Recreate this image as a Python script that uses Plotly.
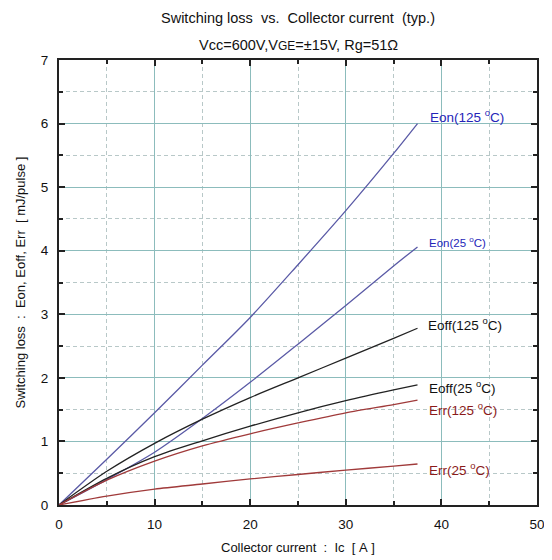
import plotly.graph_objects as go

ic = [0, 5, 10, 15, 20, 25, 30, 35, 37.5]
eon_125 = [0, 0.72, 1.45, 2.2, 2.95, 3.78, 4.63, 5.53, 6.0]
eon_25 = [0, 0.4, 0.83, 1.36, 1.93, 2.53, 3.14, 3.76, 4.06]
eoff_125 = [0, 0.53, 0.97, 1.35, 1.69, 2.0, 2.31, 2.62, 2.78]
eoff_25 = [0, 0.42, 0.76, 1.01, 1.24, 1.45, 1.64, 1.81, 1.89]
err_125 = [0, 0.39, 0.69, 0.93, 1.12, 1.29, 1.45, 1.58, 1.65]
err_25 = [0, 0.14, 0.25, 0.33, 0.41, 0.48, 0.55, 0.61, 0.645]

series = [
    ("Eon(125 °C)", eon_125, "#5a5aa6"),
    ("Eon(25 °C)", eon_25, "#5a5aa6"),
    ("Eoff(125 °C)", eoff_125, "#222222"),
    ("Eoff(25 °C)", eoff_25, "#222222"),
    ("Err(125 °C)", err_125, "#a03a3a"),
    ("Err(25 °C)", err_25, "#a03a3a"),
]

labels = [
    ("Eon(125\u00a0<sup>o</sup>C)", 38.6, 6.12, "#2424b8", 13.5),
    ("Eon(25\u00a0<sup>o</sup>C)", 38.5, 4.13, "#2424b8", 11.5),
    ("Eoff(125\u00a0<sup>o</sup>C)", 38.4, 2.85, "#111111", 13.5),
    ("Eoff(25\u00a0<sup>o</sup>C)", 38.5, 1.86, "#111111", 13.5),
    ("Err(125\u00a0<sup>o</sup>C)", 38.5, 1.51, "#8b1a1a", 13.5),
    ("Err(25\u00a0<sup>o</sup>C)", 38.5, 0.57, "#8b1a1a", 13.5),
]

FONT = "Liberation Sans, Arial"
NB = "\u00a0"

fig = go.Figure()
for name, ys, col in series:
    fig.add_trace(go.Scatter(x=ic, y=ys, mode="lines", name=name,
                             line=dict(color=col, width=1.3, shape="spline", smoothing=0.8),
                             showlegend=False))

for txt, x, y, col, fs in labels:
    fig.add_annotation(x=x, y=y, xref="x", yref="y", text=txt, showarrow=False,
                       xanchor="left", yanchor="middle",
                       font=dict(family=FONT, size=fs, color=col))

fig.add_annotation(x=0.5, y=1.0, xref="paper", yref="paper", yshift=42,
                   text=f"Switching loss{NB*2}vs.{NB*2}Collector current{NB*2}(typ.)", showarrow=False,
                   xanchor="center", yanchor="middle",
                   font=dict(family=FONT, size=14.5, color="#111"))
fig.add_annotation(x=0.5, y=1.0, xref="paper", yref="paper", yshift=15,
                   text="Vcc=600V,V<span style=\"font-size:12px\">GE</span>=±15V, Rg=51Ω", showarrow=False,
                   xanchor="center", yanchor="middle",
                   font=dict(family=FONT, size=14.5, color="#111"))
fig.add_annotation(x=0.5, y=0, xref="paper", yref="paper", yshift=-42,
                   text=f"Collector current{NB}{NB}:{NB}{NB}Ic{NB}{NB}[{NB}A{NB}]", showarrow=False,
                   xanchor="center", yanchor="middle",
                   font=dict(family=FONT, size=13, color="#111"))
fig.add_annotation(x=0, y=0.5, xref="paper", yref="paper", xshift=-39,
                   text=f"Switching loss{NB}{NB}:{NB}{NB}Eon, Eoff, Err{NB}{NB}[{NB}mJ/pulse{NB}]",
                   showarrow=False, textangle=-90,
                   xanchor="center", yanchor="middle",
                   font=dict(family=FONT, size=13, color="#111"))

axis_common = dict(showline=True, linecolor="#222", linewidth=2, mirror="ticks",
                   ticks="inside", ticklen=6, tickwidth=2, tickcolor="#222",
                   zeroline=False, automargin=False,
                   tickfont=dict(family=FONT, size=13.5, color="#111"),
                   gridcolor="#8cbcbc", gridwidth=1)

fig.update_xaxes(range=[0, 50], dtick=10, tick0=0, ticklabelstandoff=6,
                 minor=dict(dtick=5, ticks="inside", ticklen=4, tickwidth=2, tickcolor="#222",
                            showgrid=True, gridcolor="#b8c8c8", griddash="4px,3px", gridwidth=1),
                 **axis_common)
fig.update_yaxes(range=[0, 7], dtick=1, tick0=0, ticklabelstandoff=6,
                 minor=dict(dtick=0.5, ticks="inside", ticklen=4, tickwidth=2, tickcolor="#222",
                            showgrid=True, gridcolor="#b8c8c8", griddash="4px,3px", gridwidth=1),
                 **axis_common)

fig.update_layout(width=544, height=552, margin=dict(l=51, r=15, t=52, b=55),
                  paper_bgcolor="white", plot_bgcolor="white")

fig.write_html("out.html")
